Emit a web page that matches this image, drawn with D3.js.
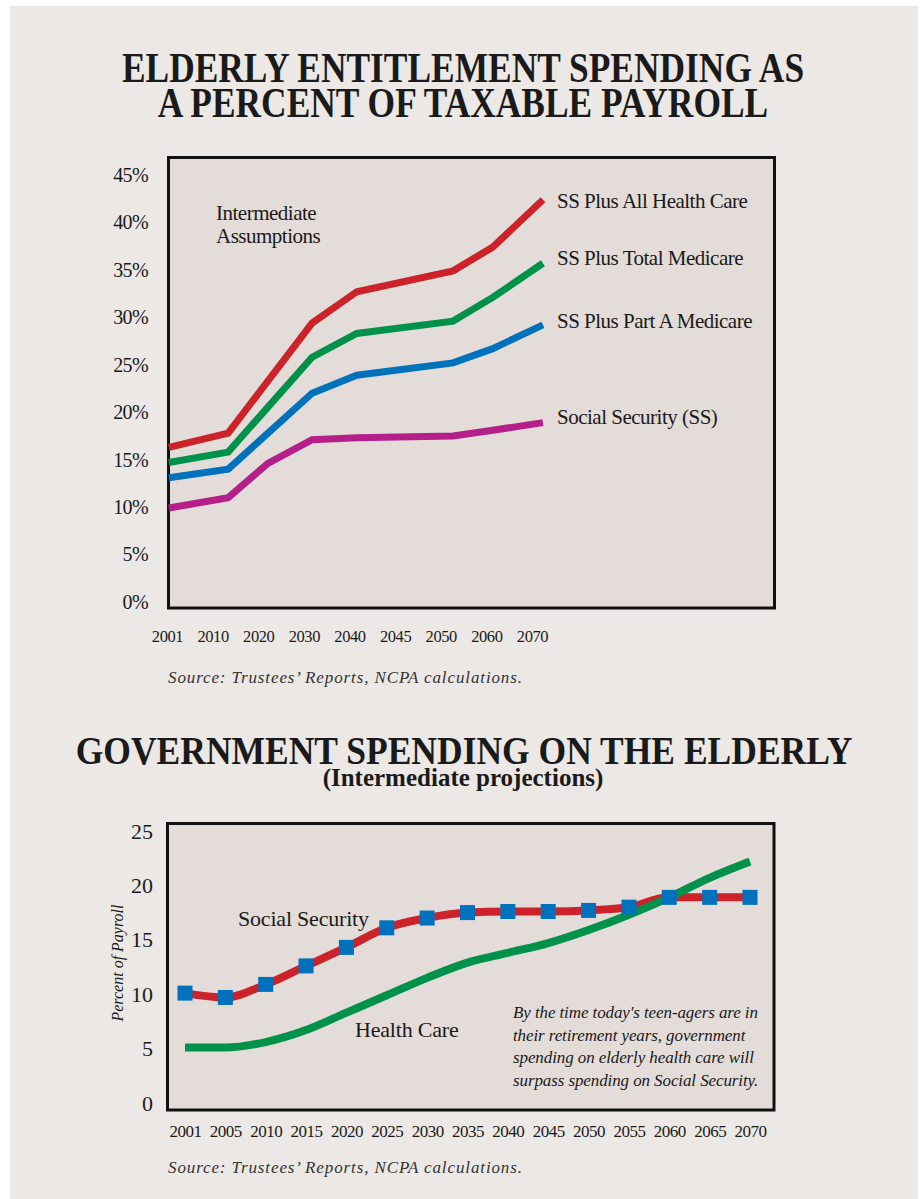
<!DOCTYPE html>
<html>
<head>
<meta charset="utf-8">
<script src="https://cdn.jsdelivr.net/npm/d3@7"></script>
<style>
  body { margin: 0; background: #ffffff; }
  svg text { font-family: "Liberation Serif", "Times New Roman", serif; fill: #1a1a1a; }
</style>
</head>
<body>
<svg id="chart" width="922" height="1199"></svg>
<script>
// ---- data: top chart ----
let topLabels = ["2001", "2010", "2020", "2030", "2040", "2045", "2050", "2060", "2070"]
// where each data point sits along the label axis (label index units)
let topPoints = [0.04, 1.34, 2.21, 3.18, 4.16, 6.27, 7.14, 8.24]
let ssAllHealth = [16.3, 17.8, null, 29.4, 32.7, 34.9, 37.4, 42.4]
let ssTotalMedicare = [14.7, 15.8, null, 25.8, 28.3, 29.6, 32.1, 35.7]
let ssPartA = [13.1, 14.0, null, 22.0, 23.9, 25.2, 26.7, 29.2]
let socialSecurity = [9.9, 11.0, 14.6, 17.1, 17.3, 17.5, 18.1, 18.9]
let topTicks = [0, 5, 10, 15, 20, 25, 30, 35, 40, 45]

// ---- data: bottom chart ----
let years = [2001, 2005, 2010, 2015, 2020, 2025, 2030, 2035, 2040, 2045, 2050, 2055, 2060, 2065, 2070]
let ssPayroll = [10.1, 9.7, 10.9, 12.6, 14.3, 16.1, 17.0, 17.5, 17.6, 17.6, 17.7, 18.0, 18.9, 18.9, 18.9]
let healthPayroll = [5.1, 5.1, 5.6, 6.7, 8.3, 9.9, 11.5, 12.9, 13.8, 14.7, 15.9, 17.3, 18.9, 20.7, 22.2]
let bottomTicks = [0, 5, 10, 15, 20, 25]

let svg = d3.select("#chart")

// page panel
svg.append("rect").attr("x", 10).attr("y", 6).attr("width", 908).attr("height", 1193).style("fill", "#ece8e5")

// condensed bold heading, squeezed horizontally
function heading(text, x, y, size, sx) {
  svg.append("text")
    .attr("transform", `translate(${x},${y}) scale(${sx},1)`)
    .attr("text-anchor", "middle")
    .style("font-size", size + "px").style("font-weight", "bold")
    .text(text)
}

// ================= TOP CHART =================
heading("ELDERLY ENTITLEMENT SPENDING AS", 463, 82, 42, 0.843)
heading("A PERCENT OF TAXABLE PAYROLL", 463, 117, 42, 0.843)

let topFrame = { left: 168.5, right: 774.5, top: 157.5, bottom: 608 }

svg.append("rect")
  .attr("x", topFrame.left).attr("y", topFrame.top)
  .attr("width", topFrame.right - topFrame.left).attr("height", topFrame.bottom - topFrame.top)
  .style("fill", "#e3dcd9").style("stroke", "#111").style("stroke-width", 3)

let xTop = d3.scaleLinear().domain([0, 8]).range([167, 532])
let yTop = d3.scaleLinear().domain([0, 45]).range([602, 175])

// y axis labels
svg.append("g")
  .attr("transform", "translate(151,0)")
  .call(d3.axisLeft(yTop).tickValues(topTicks).tickSize(0).tickPadding(3).tickFormat(d => d + "%"))
  .call(g => g.select(".domain").remove())
  .selectAll("text")
  .style("font-family", "Liberation Serif").style("font-size", "20px").style("fill", "#1a1a1a")
  .attr("letter-spacing", "-0.6")

// x axis labels
svg.append("g")
  .attr("transform", "translate(0,630)")
  .call(d3.axisBottom(xTop).tickValues(d3.range(topLabels.length)).tickSize(0).tickPadding(0).tickFormat(i => topLabels[i]))
  .call(g => g.select(".domain").remove())
  .selectAll("text")
  .style("font-family", "Liberation Serif").style("font-size", "16.5px").style("fill", "#1a1a1a")
  .attr("letter-spacing", "-0.4")

let topSeries = [
  { name: "SS Plus All Health Care", values: ssAllHealth, color: "#cc2229", labelY: 201 },
  { name: "SS Plus Total Medicare", values: ssTotalMedicare, color: "#00924a", labelY: 258 },
  { name: "SS Plus Part A Medicare", values: ssPartA, color: "#0072bc", labelY: 321 },
  { name: "Social Security (SS)", values: socialSecurity, color: "#b51f8a", labelY: 417 }
]

let topLine = d3.line()
  .x(d => xTop(d[0]))
  .y(d => yTop(d[1]))

svg.append("g").selectAll("path")
  .data(topSeries)
  .join("path")
  .attr("d", s => topLine(topPoints.map((p, i) => [p, s.values[i]]).filter(d => d[1] != null)))
  .style("fill", "none")
  .style("stroke", s => s.color)
  .style("stroke-width", 7)
  .style("stroke-linejoin", "miter")

svg.append("g").selectAll("text")
  .data(topSeries)
  .join("text")
  .attr("x", 557)
  .attr("y", s => s.labelY)
  .attr("dy", "0.35em")
  .attr("letter-spacing", "-0.5")
  .style("font-size", "21px")
  .text(s => s.name)

svg.append("text").attr("x", 216).attr("y", 220).attr("letter-spacing", "-0.5").style("font-size", "21px").text("Intermediate")
svg.append("text").attr("x", 216).attr("y", 243).attr("letter-spacing", "-0.5").style("font-size", "21px").text("Assumptions")

svg.append("text").attr("x", 168).attr("y", 683)
  .attr("textLength", 354).attr("lengthAdjust", "spacing")
  .style("font-size", "17px").style("font-style", "italic").style("fill", "#333")
  .text("Source: Trustees\u2019 Reports, NCPA calculations.")

// ================= BOTTOM CHART =================
heading("GOVERNMENT SPENDING ON THE ELDERLY", 464, 764, 41, 0.866)
heading("(Intermediate projections)", 463, 786, 25, 1.0)

let botFrame = { left: 167.5, right: 774, top: 823.5, bottom: 1110 }

svg.append("rect")
  .attr("x", botFrame.left).attr("y", botFrame.top)
  .attr("width", botFrame.right - botFrame.left).attr("height", botFrame.bottom - botFrame.top)
  .style("fill", "#e3dcd9").style("stroke", "#111").style("stroke-width", 3)

let xBot = d3.scalePoint().domain(years).range([185, 750])
let yBot = d3.scaleLinear().domain([0, 25]).range([1103, 831])

svg.append("g")
  .attr("transform", "translate(156,0)")
  .call(d3.axisLeft(yBot).tickValues(bottomTicks).tickSize(0).tickPadding(3))
  .call(g => g.select(".domain").remove())
  .selectAll("text")
  .style("font-family", "Liberation Serif").style("font-size", "22px").style("fill", "#1a1a1a")

svg.append("g")
  .attr("transform", "translate(0,1125)")
  .call(d3.axisBottom(xBot).tickSize(0).tickPadding(0).tickFormat(d => d))
  .call(g => g.select(".domain").remove())
  .selectAll("text")
  .style("font-family", "Liberation Serif").style("font-size", "17px").style("fill", "#1a1a1a")
  .attr("letter-spacing", "-0.5")

svg.append("text")
  .attr("transform", "translate(123,963) rotate(-90)")
  .attr("text-anchor", "middle")
  .style("font-size", "16px").style("font-style", "italic")
  .text("Percent of Payroll")

let botLine = d3.line()
  .x(d => xBot(d[0]))
  .y(d => yBot(d[1]))
  .curve(d3.curveMonotoneX)

svg.append("path")
  .attr("d", botLine(years.map((y, i) => [y, ssPayroll[i]])))
  .style("fill", "none").style("stroke", "#cc2229").style("stroke-width", 8)

svg.append("path")
  .attr("d", botLine(years.map((y, i) => [y, healthPayroll[i]])))
  .style("fill", "none").style("stroke", "#00924a").style("stroke-width", 8)

svg.append("g").selectAll("rect")
  .data(years.map((y, i) => [y, ssPayroll[i]]))
  .join("rect")
  .attr("x", d => xBot(d[0]) - 7.5)
  .attr("y", d => yBot(d[1]) - 7.5)
  .attr("width", 15).attr("height", 15)
  .style("fill", "#0071bc")

svg.append("text").attr("x", 238).attr("y", 926).style("font-size", "22px").attr("letter-spacing", "-0.2").text("Social Security")
svg.append("text").attr("x", 355).attr("y", 1037).style("font-size", "22px").attr("letter-spacing", "-0.2").text("Health Care")

let note = [
  "By the time today's teen-agers are in",
  "their retirement years, government",
  "spending on elderly health care will",
  "surpass spending on Social Security."
]
svg.append("g").selectAll("text")
  .data(note)
  .join("text")
  .attr("x", 513)
  .attr("y", (d, i) => 1018 + i * 22.7)
  .attr("letter-spacing", "-0.1")
  .style("font-size", "17px").style("font-style", "italic")
  .text(d => d)

svg.append("text").attr("x", 168).attr("y", 1173)
  .attr("textLength", 354).attr("lengthAdjust", "spacing")
  .style("font-size", "17px").style("font-style", "italic").style("fill", "#333")
  .text("Source: Trustees\u2019 Reports, NCPA calculations.")
</script>
</body>
</html>
